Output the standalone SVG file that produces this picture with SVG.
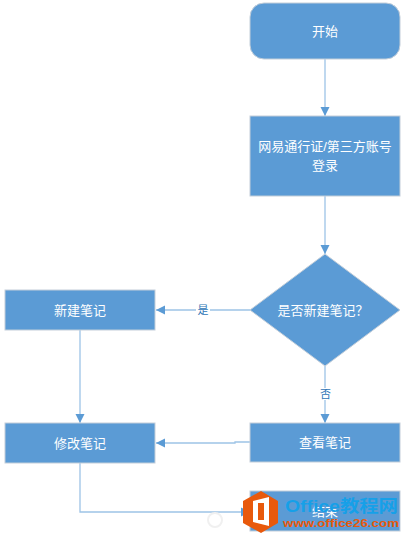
<svg xmlns="http://www.w3.org/2000/svg" width="406" height="540" viewBox="0 0 406 540">
<defs>
<style>
.n{fill:#5b9bd5;stroke:#c3ced9;stroke-width:1}
.t{font-family:"Liberation Sans","Noto Sans CJK SC",sans-serif;font-size:13px;fill:#fff;text-anchor:middle}
.c{fill:none;stroke:#9dc3e6;stroke-width:1.3}
.l{font-family:"Liberation Sans","Noto Sans CJK SC",sans-serif;font-size:11px;fill:#2e75b6;text-anchor:middle}
.w{font-family:"Liberation Sans","Noto Sans CJK SC",sans-serif;font-weight:bold}
</style>
<marker id="a" markerUnits="userSpaceOnUse" markerWidth="10" markerHeight="10" refX="9" refY="5" orient="auto"><path d="M0,0.5L9,5L0,9.5z" fill="#5b9bd5"/></marker>
</defs>
<rect width="406" height="540" fill="#fff"/>
<g id="connectors">
<path class="c" d="M325,59V116" marker-end="url(#a)"/>
<path class="c" d="M325,196V254" marker-end="url(#a)"/>
<path class="c" d="M250,310H156" marker-end="url(#a)"/>
<path class="c" d="M325,366V423" marker-end="url(#a)"/>
<path class="c" d="M80,330V423" marker-end="url(#a)"/>
<path class="c" d="M250,442H235V443H156" marker-end="url(#a)"/>
<path class="c" d="M80,463V512H250" marker-end="url(#a)"/>
<rect x="196" y="304" width="14" height="12" fill="#fff"/>
<text class="l" x="203" y="314">是</text>
<rect x="319" y="388" width="13" height="12" fill="#fff"/>
<text class="l" x="325.500" y="398">否</text>
</g>
<g id="start"><rect class="n" x="250" y="3" width="150" height="56" rx="14"/><text class="t" x="325" y="36">开始</text></g>
<g id="login"><rect class="n" x="250" y="116" width="150" height="80"/><text class="t" x="325" y="151">网易通行证/第三方账号</text><text class="t" x="325" y="170">登录</text></g>
<g id="decision"><path class="n" d="M325,254L400,310L325,366L250,310z"/><text class="t" x="323" y="315">是否新建笔记？</text></g>
<g id="new"><rect class="n" x="5" y="290" width="150" height="40"/><text class="t" x="80" y="315">新建笔记</text></g>
<g id="edit"><rect class="n" x="5" y="423" width="150" height="40"/><text class="t" x="80" y="448">修改笔记</text></g>
<g id="view"><rect class="n" x="250" y="423" width="150" height="39"/><text class="t" x="325" y="447">查看笔记</text></g>
<g id="end"><rect class="n" x="250" y="491" width="150" height="40"/><text class="t" x="325" y="516">结束</text></g>
<g id="watermark">
<circle cx="215" cy="520" r="7" fill="#fff" stroke="#f0f0f0" stroke-width="2"/>
<path d="M261,491L278,501V523L261,533L243,523V501z" fill="#e8590c"/>
<path d="M253,501L269,497V526L253,522z" fill="#fff"/>
<rect x="258" y="503" width="6" height="17" fill="#e8590c"/>
<text class="w" x="285" y="512" font-size="17" fill="#16a0e8" textLength="113" lengthAdjust="spacingAndGlyphs">Office教程网</text>
<text class="w" x="283" y="527" font-size="11" fill="#e8590c" textLength="116" lengthAdjust="spacingAndGlyphs">www.office26.com</text>
</g>
</svg>
